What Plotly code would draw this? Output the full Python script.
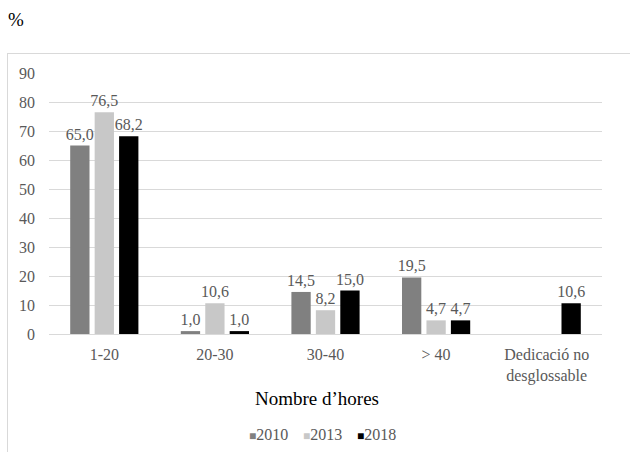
import plotly.graph_objects as go

categories = ["1-20", "20-30", "30-40", "> 40", "Dedicació no<br>desglossable"]
years = ["2010", "2013", "2018"]
values_2010 = [65.0, 1.0, 14.5, 19.5, None]
values_2013 = [76.5, 10.6, 8.2, 4.7, None]
values_2018 = [68.2, 1.0, 15.0, 4.7, 10.6]
colors = ["#808080", "#c8c8c8", "#000000"]

SERIF = "Liberation Serif"
W, H = 630, 452
L, R, T, B = 49, 28, 73, 118
pw, ph = W - L - R, H - T - B

def fmt(v):
    return "" if v is None else f"{v:.1f}".replace(".", ",")

fig = go.Figure()
for name, vals, col in zip(years, [values_2010, values_2013, values_2018], colors):
    fig.add_trace(go.Bar(
        name=name, x=categories, y=vals,
        marker=dict(color=col, line=dict(width=0)),
        text=[fmt(v) for v in vals], textposition="outside",
        constraintext="none",
        textfont=dict(family=SERIF, size=16, color="#595959"),
        cliponaxis=False, showlegend=False,
    ))

def px_x(p):
    return (p - L) / pw

def px_y(p):
    return (H - B - p) / ph

# light frame around the chart area
frame = dict(type="line", xref="paper", yref="paper",
             line=dict(color="#d9d9d9", width=1), layer="below")
fig.add_shape(**frame, x0=px_x(7), x1=px_x(640), y0=px_y(53.5), y1=px_y(53.5))
fig.add_shape(**frame, x0=px_x(7.5), x1=px_x(7.5), y0=px_y(53.5), y1=px_y(470))

fig.add_annotation(text="%", xref="paper", yref="paper", x=px_x(6), y=px_y(19),
                   xanchor="left", yanchor="middle", showarrow=False,
                   font=dict(family=SERIF, size=19, color="#000000"))

# x axis title
fig.add_annotation(text="Nombre d’hores", xref="paper", yref="paper",
                   x=px_x(317), y=px_y(399), xanchor="center", yanchor="middle",
                   showarrow=False,
                   font=dict(family=SERIF, size=19, color="#000000"))

# legend: coloured square followed by the year
legend_x = [268, 322, 376]
for name, col, lx in zip(years, colors, legend_x):
    fig.add_annotation(
        text=f'<span style="color:{col};font-size:12px">■</span>{name}',
        xref="paper", yref="paper", x=px_x(lx), y=px_y(434),
        xanchor="center", yanchor="middle", showarrow=False,
        font=dict(family=SERIF, size=16, color="#595959"),
    )

fig.update_layout(
    width=W, height=H,
    margin=dict(l=L, r=R, t=T, b=B, pad=0, autoexpand=False),
    paper_bgcolor="white", plot_bgcolor="white",
    barmode="group", bargap=0.337, bargroupgap=0.21,
    font=dict(family=SERIF, size=16, color="#595959"),
    showlegend=False,
    xaxis=dict(
        showgrid=False, showline=False, ticks="", automargin=False,
        ticklabelstandoff=9,
        tickfont=dict(family=SERIF, size=16, color="#595959"),
    ),
    yaxis=dict(
        range=[0, 90], dtick=10, showgrid=True, gridcolor="#d9d9d9", gridwidth=1,
        zeroline=True, zerolinecolor="#d9d9d9", zerolinewidth=1,
        showline=False, ticks="", ticklabelstandoff=13, automargin=False,
        tickfont=dict(family=SERIF, size=16, color="#595959"),
    ),
)

fig.write_html("out.html")
